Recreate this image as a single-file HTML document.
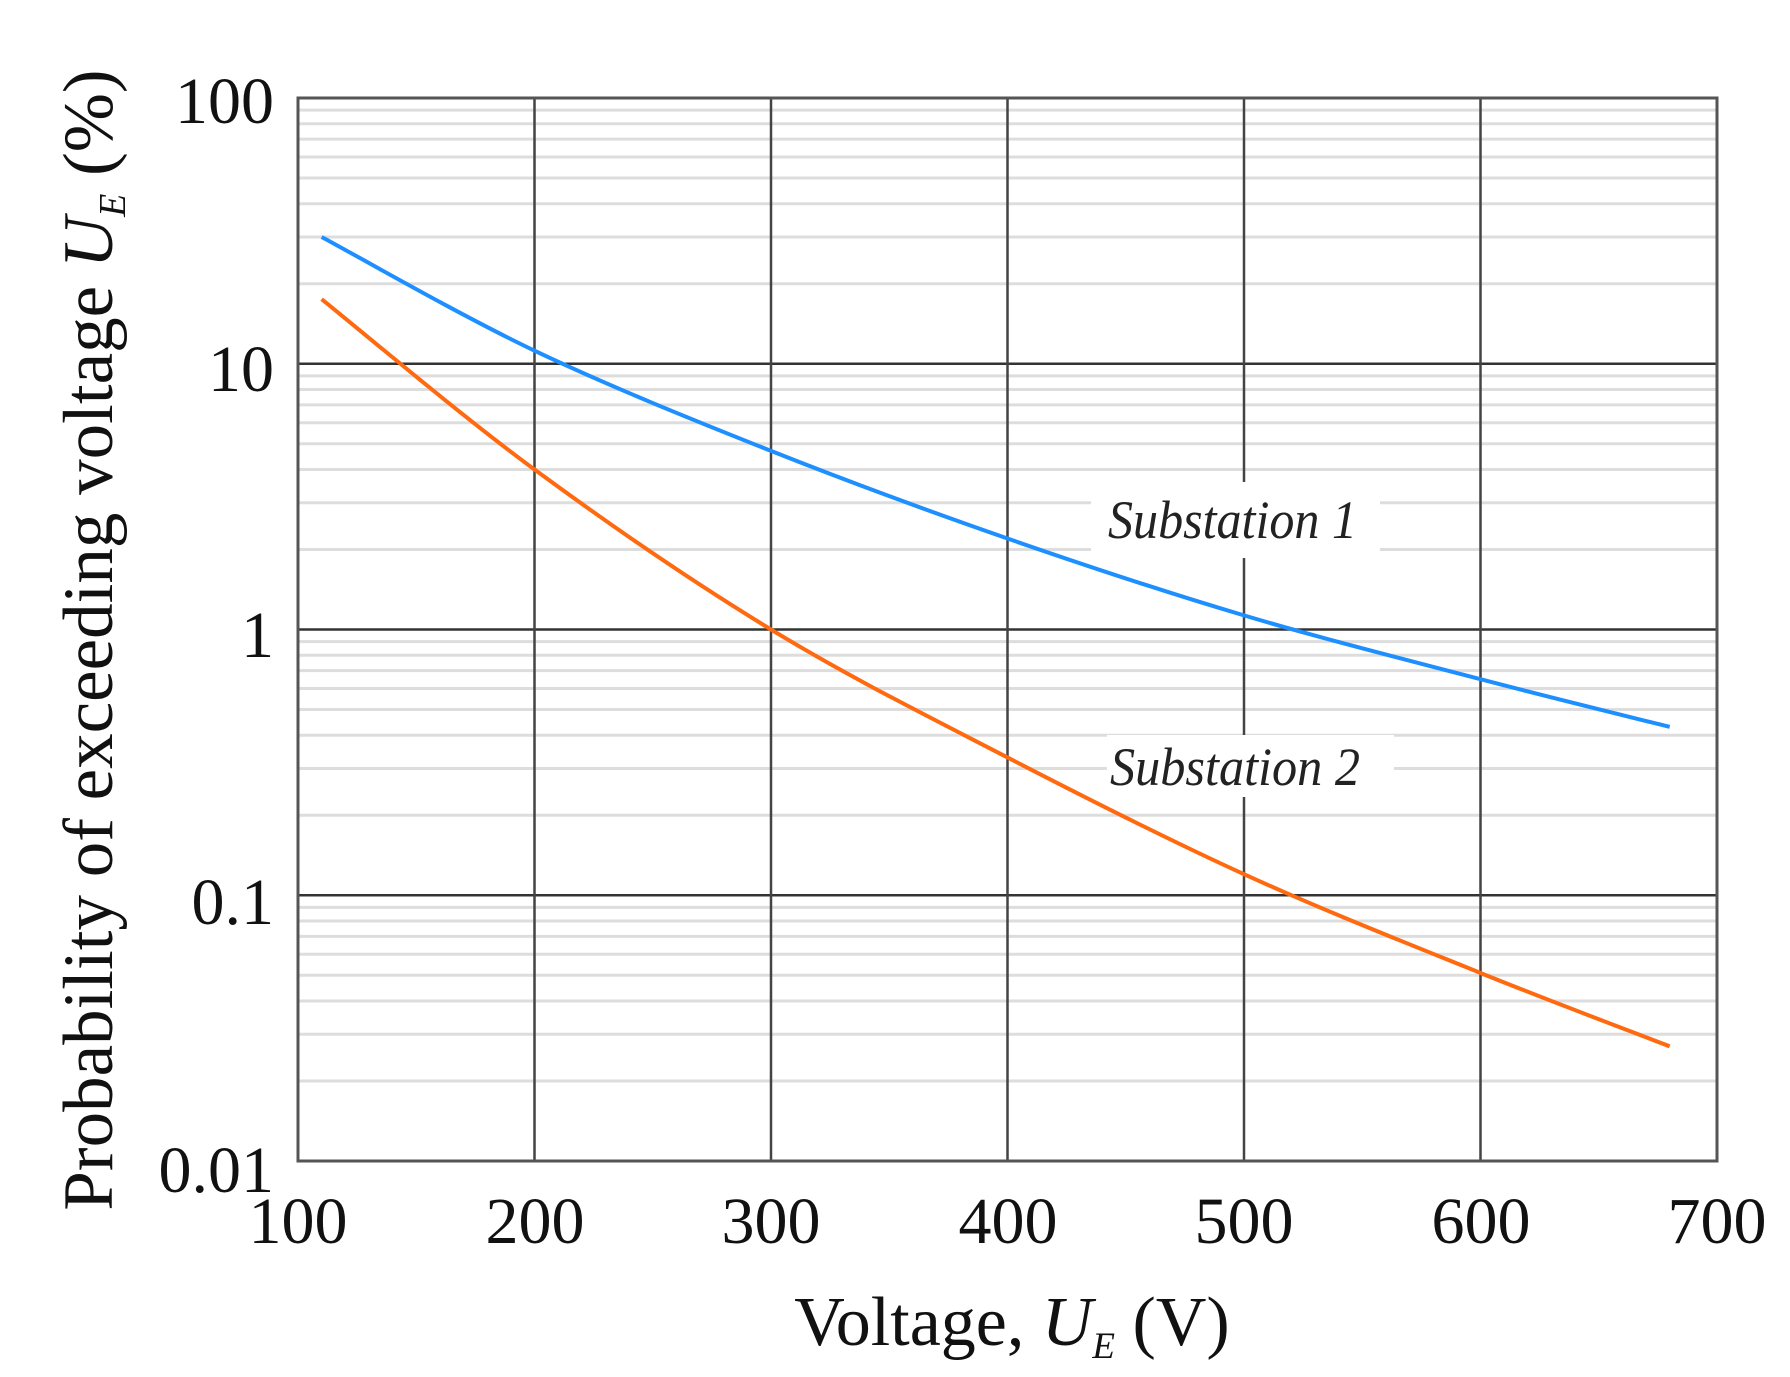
<!DOCTYPE html>
<html><head><meta charset="utf-8"><style>html,body{margin:0;padding:0;background:#fff}svg{display:block}</style></head>
<body>
<svg id="s" width="1790" height="1377" viewBox="0 0 1790 1377" xmlns="http://www.w3.org/2000/svg" font-family="Liberation Serif, serif">
<g id="grid"></g>
<rect x="298" y="98" width="1419" height="1063" fill="none" stroke="#555" stroke-width="3"/>
<g id="curves"></g>
<rect x="1091" y="482" width="289" height="76" fill="#fff"/>
<rect x="1107" y="735" width="287" height="62" fill="#fff"/>
<text x="1108" y="538" font-size="54" font-style="italic" fill="#222" textLength="249" lengthAdjust="spacingAndGlyphs">Substation 1</text>
<text x="1110" y="785" font-size="54" font-style="italic" fill="#222" textLength="250" lengthAdjust="spacingAndGlyphs">Substation 2</text>
<g font-size="66" fill="#111" text-anchor="end">
<text x="274" y="123">100</text>
<text x="274" y="391">10</text>
<text x="274" y="657">1</text>
<text x="274" y="924">0.1</text>
<text x="274" y="1192">0.01</text>
</g>
<g font-size="66" fill="#111" text-anchor="middle">
<text x="298" y="1243">100</text>
<text x="535" y="1243">200</text>
<text x="771" y="1243">300</text>
<text x="1008" y="1243">400</text>
<text x="1244" y="1243">500</text>
<text x="1481" y="1243">600</text>
<text x="1717" y="1243">700</text>
</g>
<text x="1012" y="1345" font-size="70" fill="#111" text-anchor="middle">Voltage, <tspan font-style="italic">U</tspan><tspan font-style="italic" font-size="37" dy="13">E</tspan><tspan dy="-13"> (V)</tspan></text>
<text transform="translate(112,640) rotate(-90)" font-size="71" fill="#111" text-anchor="middle">Probability of exceeding voltage <tspan font-style="italic">U</tspan><tspan font-style="italic" font-size="38" dy="13">E</tspan><tspan dy="-13"> (%)</tspan></text>
</svg>
<script>
var L=298,R=1717,T=98,B=1161,D=(B-T)/4;
function X(v){return L+(v-100)*(R-L)/600}
function Y(p){return T+(2-Math.log10(p))*D}
var g='';
for(var d=-2;d<2;d++){for(var k=2;k<10;k++){var y=Y(k*Math.pow(10,d));g+='<line x1="'+L+'" x2="'+R+'" y1="'+y+'" y2="'+y+'" stroke="#ddd" stroke-width="3"/>';}}
[10,1,0.1].forEach(function(p){var y=Y(p);g+='<line x1="'+L+'" x2="'+R+'" y1="'+y+'" y2="'+y+'" stroke="#333" stroke-width="2.5"/>';});
[200,300,400,500,600].forEach(function(v){var x=X(v);g+='<line x1="'+x+'" x2="'+x+'" y1="'+T+'" y2="'+B+'" stroke="#444" stroke-width="2.5"/>';});
document.getElementById('grid').innerHTML=g;
function path(pts){var P=pts.map(function(p){return [X(p[0]),Y(p[1])]});var s='M'+P[0][0]+','+P[0][1];
for(var i=0;i<P.length-1;i++){var p0=P[Math.max(i-1,0)],p1=P[i],p2=P[i+1],p3=P[Math.min(i+2,P.length-1)];
s+=' C'+(p1[0]+(p2[0]-p0[0])/6)+','+(p1[1]+(p2[1]-p0[1])/6)+' '+(p2[0]-(p3[0]-p1[0])/6)+','+(p2[1]-(p3[1]-p1[1])/6)+' '+p2[0]+','+p2[1];}return s;}
var b=[[110,30],[200,11.2],[300,4.7],[400,2.2],[500,1.13],[600,0.65],[680,0.43]];
var o=[[110,17.5],[200,4.0],[300,1.0],[400,0.33],[500,0.12],[600,0.051],[680,0.027]];
document.getElementById('curves').innerHTML='<path d="'+path(b)+'" fill="none" stroke="#1e8fff" stroke-width="4"/><path d="'+path(o)+'" fill="none" stroke="#ff6a10" stroke-width="4"/>';
</script>
</body></html>
